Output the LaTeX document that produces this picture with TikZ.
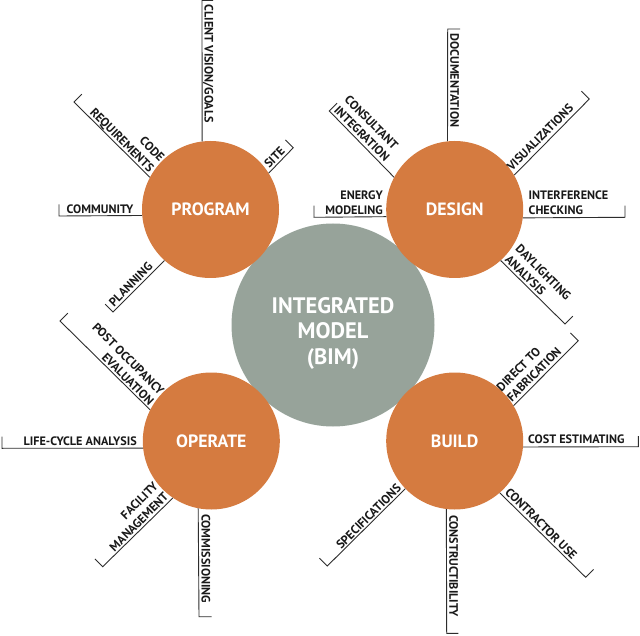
\documentclass[tikz,border=0pt]{standalone}
\usepackage{fontspec}
\setmainfont{PT Sans}[BoldFont={PT Sans Bold}]
\definecolor{bimorange}{RGB}{213,123,64}
\definecolor{bimgrey}{RGB}{151,163,154}
\definecolor{spokegrey}{RGB}{45,45,45}
\begin{document}
\begin{tikzpicture}[x=1pt,y=-1pt,
  hub/.style={circle, fill=bimgrey, minimum size=203pt, inner sep=0pt},
  hubtext/.style={text=white, align=center, inner sep=0pt, font=\bfseries\fontsize{22.4}{25.5}\selectfont},
  phase/.style={circle, fill=bimorange, minimum size=137pt, inner sep=0pt, text=white, font=\bfseries\fontsize{17.8}{19}\selectfont},
  spoke/.style={draw=spokegrey, line width=0.9pt},
  lbl/.style={inner sep=0pt, text depth=0pt, text=black!90, font=\bfseries\fontsize{12.2}{14.6}\selectfont}]
\useasboundingbox[fill=white] (0,0) rectangle (640,636);

% central model
\node[hub] (bim) at (333,325) {};
\node[hubtext] (bimlabel) at (333,333) {INTEGRATED\\MODEL\\(BIM)};

% phase circles
\node[phase] (program) at (210.5,209.5) {PROGRAM};
\node[phase] (design) at (454.7,209.5) {DESIGN};
\node[phase] (operate) at (211.3,441) {OPERATE};
\node[phase] (build) at (454.7,441) {BUILD};

% ---------- PROGRAM spokes ----------
\coordinate (p1e) at (202,0.5);   \coordinate (p1t) at (213,0.5);
\draw[spoke] (program.97) -- (p1e) -- (p1t);
\node[lbl, rotate=-90, anchor=south west] (p1l) at (204.5,4.5) {CLIENT VISION/GOALS};

\coordinate (p2e) at (74,102);    \coordinate (p2t) at (81.8,94.2);
\draw[spoke] (program.152.5) -- (p2e) -- (p2t);
\node[lbl, rotate=-45, anchor=south east, align=right] (p2l) at (149,173) {CODE\\REQUIREMENTS};

\coordinate (p3e) at (293.3,147.7); \coordinate (p3t) at (285.5,139.9);
\draw[spoke] (program.32) -- (p3e) -- (p3t);
\node[lbl, rotate=45, anchor=south west] (p3l) at (269.3,169.1) {SITE};

\coordinate (p4e) at (59,216);    \coordinate (p4t) at (59,204.5);
\draw[spoke] (program.185.4) -- (p4e) -- (p4t);
\node[lbl, anchor=south east] (p4l) at (133.5,213.5) {COMMUNITY};

\coordinate (p5e) at (113,312);   \coordinate (p5t) at (105.2,304.2);
\draw[spoke] (program.228.3) -- (p5e) -- (p5t);
\node[lbl, rotate=45, anchor=south west] (p5l) at (114,307.4) {PLANNING};

% ---------- DESIGN spokes ----------
\coordinate (d1e) at (447.7,29);  \coordinate (d1t) at (460,29);
\draw[spoke] (design.96) -- (d1e) -- (d1t);
\node[lbl, rotate=-90, anchor=south west] (d1l) at (450.2,33.5) {DOCUMENTATION};

\coordinate (d2e) at (329.3,111); \coordinate (d2t) at (337.1,103.2);
\draw[spoke] (design.152.5) -- (d2e) -- (d2t);
\node[lbl, rotate=-45, anchor=south west, align=left] (d2l) at (333.2,111.3) {CONSULTANT\\INTEGRATION};

\coordinate (d3e) at (589.3,99);  \coordinate (d3t) at (581.5,91.2);
\draw[spoke] (design.30.7) -- (d3e) -- (d3t);
\node[lbl, rotate=45, anchor=south west] (d3l) at (512,171.8) {VISUALIZATIONS};

\coordinate (d4e) at (314,217.3); \coordinate (d4t) at (314,205.7);
\draw[spoke] (design.186.6) -- (d4e) -- (d4t);
\node[lbl, anchor=south east, align=right] (d4l) at (383,214.5) {ENERGY\\MODELING};

\coordinate (d5e) at (625,217.3); \coordinate (d5t) at (625,205.7);
\draw[spoke] (design.353.4) -- (d5e) -- (d5t);
\node[lbl, anchor=south west, align=left] (d5l) at (528.5,214.5) {INTERFERENCE\\CHECKING};

\coordinate (d6e) at (565,324);   \coordinate (d6t) at (572.8,316.2);
\draw[spoke] (design.312.1) -- (d6e) -- (d6t);
\node[lbl, rotate=-45, anchor=south west, align=left] (d6l) at (504.2,260.3) {DAYLIGHTING\\ANALYSIS};

% ---------- OPERATE spokes ----------
\coordinate (o1e) at (60,321);    \coordinate (o1t) at (67.8,313.2);
\draw[spoke] (operate.153.5) -- (o1e) -- (o1t);
\node[lbl, rotate=-45, anchor=south east, align=right] (o1l) at (148.7,406.1) {POST OCCUPANCY\\EVALUATION};

\coordinate (o2e) at (2,448.3);   \coordinate (o2t) at (2,436.7);
\draw[spoke] (operate.186.1) -- (o2e) -- (o2t);
\node[lbl, anchor=south east] (o2l) at (137,445.5) {LIFE-CYCLE ANALYSIS};

\coordinate (o3e) at (102.7,566.7); \coordinate (o3t) at (94.9,558.9);
\draw[spoke] (operate.236) -- (o3e) -- (o3t);
\node[lbl, rotate=45, anchor=south east, align=right] (o3l) at (169.4,497.6) {FACILITY\\MANAGEMENT};

\coordinate (o4e) at (199,616.7); \coordinate (o4t) at (211.7,616.7);
\draw[spoke] (operate.259.8) -- (o4e) -- (o4t);
\node[lbl, rotate=-90, anchor=south west] (o4l) at (201.5,514) {COMMISSIONING};

% ---------- BUILD spokes ----------
\coordinate (b1e) at (578.3,340.7); \coordinate (b1t) at (570.5,332.9);
\draw[spoke] (build.31) -- (b1e) -- (b1t);
\node[lbl, rotate=45, anchor=south west, align=left] (b1l) at (512,402.8) {DIRECT TO\\FABRICATION};

\coordinate (b2e) at (638.3,446.7); \coordinate (b2t) at (638.3,436);
\draw[spoke] (build.355.2) -- (b2e) -- (b2t);
\node[lbl, anchor=south west] (b2l) at (528,444) {COST ESTIMATING};

\coordinate (b3e) at (327.3,566); \coordinate (b3t) at (319.5,558.2);
\draw[spoke] (build.224.6) -- (b3e) -- (b3t);
\node[lbl, rotate=45, anchor=south east] (b3l) at (402.1,489.3) {SPECIFICATIONS};

\coordinate (b4e) at (446.7,633.3); \coordinate (b4t) at (458.3,633.3);
\draw[spoke] (build.263.4) -- (b4e) -- (b4t);
\node[lbl, rotate=-90, anchor=south west] (b4l) at (449.2,515) {CONSTRUCTIBILITY};

\coordinate (b5e) at (585.7,577.3); \coordinate (b5t) at (593.5,569.5);
\draw[spoke] (build.311.4) -- (b5e) -- (b5t);
\node[lbl, rotate=-45, anchor=south west, align=left] (b5l) at (504.2,493) {CONTRACTOR USE};
\end{tikzpicture}
\end{document}
